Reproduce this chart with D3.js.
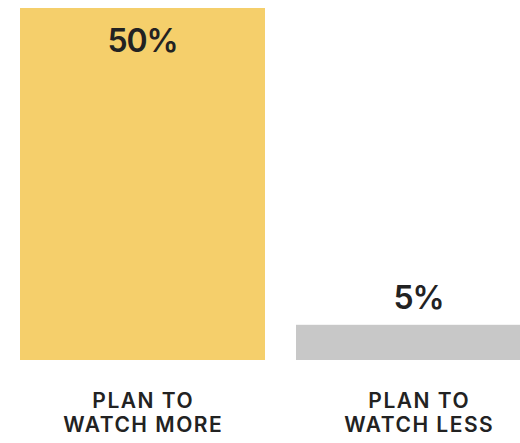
<!DOCTYPE html>
<html>
<head>
<meta charset="utf-8">
<script src="https://cdn.jsdelivr.net/npm/d3@7"></script>
<style>
  html, body { margin: 0; padding: 0; background: #fff; overflow: hidden; }
  svg { display: block; }
</style>
</head>
<body>
<svg width="520" height="443"></svg>
<script>
const categories = ["PLAN TO|WATCH MORE", "PLAN TO|WATCH LESS"];
const values = [50, 5];
const valueLabels = ["50%", "5%"];
const colors = ["#f5cf6b", "#c8c8c8"];

let svg = d3.select("svg"),
    width = +svg.attr("width"),
    height = +svg.attr("height");

let x = d3.scaleBand()
    .domain(categories)
    .range([20, 541])
    .paddingInner(31 / 276)
    .paddingOuter(0);

let y = d3.scaleLinear()
    .domain([0, 50])
    .range([360, 8]);

let font = "Inter, 'Noto Sans', sans-serif";

let bars = svg.selectAll("g.bar")
    .data(categories)
    .enter()
    .append("g")
    .attr("class", "bar");

bars.append("rect")
    .attr("x", d => x(d))
    .attr("y", (d, i) => y(values[i]))
    .attr("width", x.bandwidth())
    .attr("height", (d, i) => y(0) - y(values[i]))
    .attr("fill", (d, i) => colors[i]);

// value labels: inside the top of tall bars, above short ones
bars.append("text")
    .attr("x", d => x(d) + x.bandwidth() / 2)
    .attr("y", (d, i) => {
        let top = y(values[i]);
        return (y(0) - top) > 100 ? top + 44 : top - 16;
    })
    .attr("text-anchor", "middle")
    .style("font-family", font)
    .style("font-weight", 600)
    .style("font-size", "32px")
    .style("letter-spacing", "-1.2px")
    .style("fill", "#222")
    .text((d, i) => valueLabels[i]);

// category labels, two lines each
let cat = bars.append("text")
    .attr("text-anchor", "middle")
    .style("font-family", font)
    .style("font-weight", 600)
    .style("font-size", "21px")
    .style("letter-spacing", "1.5px")
    .style("fill", "#222");

cat.selectAll("tspan")
    .data(d => d.split("|").map(t => ({ t: t, c: d })))
    .enter()
    .append("tspan")
    .attr("x", d => x(d.c) + x.bandwidth() / 2 + 0.75)
    .attr("y", (d, i) => 408 + i * 24)
    .text(d => d.t);
</script>
</body>
</html>
